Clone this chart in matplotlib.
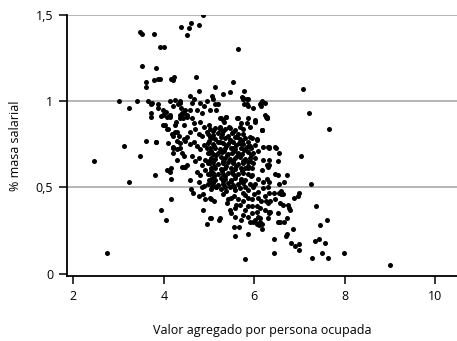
import matplotlib
matplotlib.use("Agg")
import matplotlib.pyplot as plt
import numpy as np

plt.rcParams["font.family"] = ["Open Sans", "DejaVu Sans"]

# Sparse points: outliers and the edges of the cloud
va_disperso = [
    3.47, 3.51, 3.79, 3.92, 4.00, 3.51, 3.82, 3.61, 3.61, 3.79, 3.87, 3.92, 4.16, 4.18,
    4.20, 4.22, 4.38, 4.51, 4.56, 4.61, 4.78, 4.87, 5.64, 4.71, 5.54, 4.78, 5.13, 4.58,
    5.07, 5.31, 5.47, 5.77, 5.74, 5.74, 5.84, 6.15, 6.14, 5.78, 5.87,
    3.01, 3.40, 3.64, 3.24, 3.72, 3.71, 3.71, 3.87, 3.94,
    7.08, 7.21, 7.65, 6.25, 6.29, 6.18, 6.33, 6.49, 7.03, 6.54, 6.52, 6.32, 6.32, 6.30,
    6.46, 6.52, 6.72, 6.28, 6.32, 6.55, 6.66, 7.25, 6.59,
    6.33, 6.44, 6.55, 6.59, 6.64, 6.99, 6.96, 6.88,
    6.26, 6.35, 6.46, 6.57, 6.64, 6.74, 6.77, 6.79, 7.36, 6.32, 6.33, 6.52, 6.72, 6.52,
    6.57, 6.66, 7.60, 7.46, 6.86, 6.72, 6.70, 6.44, 7.44, 7.35, 7.57, 6.80, 6.99, 6.99,
    6.91, 6.44, 7.50, 7.98, 7.27, 7.62, 9.01,
    2.74, 5.79, 4.04, 4.96, 5.22, 5.98, 6.05, 6.13, 6.11,
    2.45, 3.12, 3.47, 3.22, 3.61, 3.82,
    4.16, 3.94, 4.59, 4.65, 4.78, 4.87, 4.91, 4.87, 5.02, 5.02, 4.84,
]
ms_disperso = [
    1.40, 1.39, 1.39, 1.31, 1.31, 1.20, 1.19, 1.11, 1.08, 1.12, 1.13, 1.13, 1.13, 1.13,
    1.12, 1.14, 1.43, 1.38, 1.42, 1.45, 1.44, 1.50, 1.30, 1.14, 1.11, 1.06, 1.08, 1.03,
    1.03, 1.04, 1.05, 1.06, 1.02, 1.01, 1.01, 0.99, 0.97, 0.98, 0.97,
    1.00, 1.00, 1.00, 0.96, 0.98, 0.93, 0.905, 0.96, 0.915,
    1.07, 0.93, 0.84, 0.91, 0.90, 0.83, 0.73, 0.73, 0.68, 0.70, 0.65, 0.66, 0.63, 0.62,
    0.58, 0.57, 0.57, 0.55, 0.53, 0.52, 0.53, 0.52, 0.48,
    0.47, 0.47, 0.47, 0.46, 0.46, 0.47, 0.45, 0.44,
    0.42, 0.42, 0.43, 0.41, 0.40, 0.40, 0.38, 0.37, 0.39, 0.36, 0.35, 0.35, 0.32, 0.30,
    0.30, 0.30, 0.31, 0.28, 0.26, 0.23, 0.22, 0.20, 0.20, 0.19, 0.18, 0.18, 0.17, 0.14,
    0.16, 0.12, 0.12, 0.12, 0.09, 0.09, 0.05,
    0.12, 0.085, 0.31, 0.29, 0.31, 0.30, 0.29, 0.30, 0.28,
    0.65, 0.74, 0.68, 0.53, 0.77, 0.76,
    0.43, 0.37, 0.49, 0.47, 0.45, 0.46, 0.43, 0.37, 0.32, 0.44, 0.50,
]

# Upper-left part of the cloud (4 to 5)
va_izquierda = [
    3.74, 3.88, 3.99, 4.14, 4.20, 4.36, 4.38, 4.44, 4.51, 4.57, 4.62, 4.66, 4.73, 4.79,
    4.84, 4.88, 4.95, 5.01,
    4.05, 3.98, 4.14, 4.27, 4.36, 4.44, 4.62, 4.66, 4.80, 4.88, 4.99,
    4.03, 4.10, 4.18, 4.25, 4.33, 4.44, 4.51, 4.58, 4.69, 4.77, 4.84, 4.95, 5.02,
    3.83, 4.21, 4.29, 4.20, 4.36, 4.40, 4.44, 4.58, 4.66, 4.73, 4.80, 4.88, 4.95, 4.99,
    4.29, 4.51, 4.44, 4.62, 4.69, 4.77, 4.84, 4.91, 5.01,
    4.07, 4.16, 4.14, 4.40, 4.47, 4.73, 4.80, 4.91, 5.01,
    3.80, 4.16, 4.58, 4.77, 4.88, 4.99, 5.06,
    4.06, 4.14, 3.99, 4.06, 4.25, 4.29, 4.36, 4.40, 4.43, 4.32, 4.25, 4.36, 4.47, 4.51,
    4.21, 4.29, 4.10, 4.36, 4.47, 4.21,
]
ms_izquierda = [
    0.99, 0.98, 0.95, 1.00, 0.97, 0.99, 0.96, 0.93, 0.92, 0.95, 0.99, 1.01, 0.95, 0.99,
    0.93, 0.97, 1.00, 0.95,
    0.935, 0.92, 0.91, 0.88, 0.90, 0.86, 0.90, 0.87, 0.88, 0.85, 0.86,
    0.86, 0.84, 0.81, 0.82, 0.80, 0.78, 0.79, 0.82, 0.84, 0.81, 0.80, 0.82, 0.79,
    0.76, 0.73, 0.72, 0.70, 0.73, 0.70, 0.68, 0.75, 0.765, 0.74, 0.72, 0.745, 0.73, 0.70,
    0.66, 0.63, 0.62, 0.68, 0.65, 0.67, 0.63, 0.66, 0.64,
    0.60, 0.615, 0.59, 0.62, 0.62, 0.59, 0.57, 0.60, 0.58,
    0.57, 0.55, 0.54, 0.53, 0.51, 0.54, 0.51,
    0.91, 0.92, 0.86, 0.84, 0.86, 0.82, 0.92, 0.93, 0.90, 0.98, 1.005, 1.00, 0.95, 0.91,
    0.80, 0.77, 0.755, 0.755, 0.77, 0.735,
]

# Dense core between 5 and 6
va_nucleo = [
    5.09, 5.13, 5.16, 5.72, 5.75, 5.86, 5.83, 5.97, 6.12, 6.16, 6.23,
    5.27, 5.33, 5.38, 5.64, 5.70, 5.75, 5.86, 6.01, 6.16, 6.27, 6.32, 6.05, 5.94, 6.08,
    6.19, 6.16, 6.27, 6.08, 6.01, 6.19, 5.94, 5.86, 5.90,
    5.19, 5.24, 5.30, 5.37, 5.24, 5.43, 5.62, 5.68, 5.83, 5.90, 6.02, 6.24, 6.27, 6.16,
    5.62, 5.76, 5.90, 6.05, 5.46, 5.68, 5.83, 6.02, 6.20, 6.31, 6.46, 5.54,
    5.02, 5.13, 5.24, 5.35, 5.46, 5.57,
    4.98, 5.09, 5.19, 5.29, 5.41, 5.51, 5.63,
    5.04, 5.14, 5.26, 5.36, 5.46, 5.57, 5.68, 5.79,
    4.98, 5.08, 5.20, 5.31, 5.42, 5.53, 5.66, 5.75, 5.85,
    5.02, 5.13, 5.24, 5.35, 5.48, 5.58, 5.70, 5.80, 5.92,
    4.98, 5.09, 5.19, 5.29, 5.41, 5.51, 5.63, 5.73, 5.85, 5.97,
    5.04, 5.14, 5.26, 5.36, 5.46, 5.57, 5.68, 5.79, 5.90, 6.01,
    4.98, 5.09, 5.20, 5.31, 5.42, 5.53, 5.64, 5.75, 5.85, 5.97,
    5.04, 5.14, 5.26, 5.36, 5.48, 5.58, 5.70, 5.80, 5.94,
    4.98, 5.09, 5.20, 5.31, 5.42, 5.53, 5.64, 5.75, 5.86,
    5.04, 5.14, 5.26, 5.36, 5.48, 5.58, 5.70, 5.80,
    4.98, 5.09, 5.20, 5.31, 5.42, 5.53, 5.64, 5.75, 5.90,
    5.08, 5.30, 5.52,
    5.00, 5.25, 5.48, 5.72,
    5.10, 5.37, 5.60, 5.90,
    5.05, 5.33, 5.56, 5.78,
    5.15, 5.40, 5.62, 5.92,
    5.00, 5.30, 5.52, 5.74,
    5.12, 5.38, 5.60, 5.86,
    5.05, 5.28, 5.50, 5.72,
    5.10, 5.35, 5.58, 5.92,
    5.02, 5.30, 5.48, 5.70,
    5.15, 5.35, 5.55, 5.80,
]
ms_nucleo = [
    1.01, 0.98, 0.95, 1.025, 1.01, 1.01, 0.98, 0.96, 0.98, 1.00, 0.99,
    0.90, 0.88, 0.91, 0.90, 0.87, 0.84, 0.90, 0.89, 0.83, 0.91, 0.735, 0.775, 0.785, 0.71,
    0.66, 0.60, 0.63, 0.55, 0.52, 0.53, 0.57, 0.61, 0.65,
    0.98, 0.90, 0.89, 0.91, 0.85, 0.85, 0.90, 0.85, 0.875, 0.85, 0.88, 0.92, 0.90, 0.83,
    0.79, 0.81, 0.79, 0.78, 0.775, 0.755, 0.735, 0.745, 0.735, 0.735, 0.735, 0.725,
    0.84, 0.845, 0.835, 0.84, 0.845, 0.83,
    0.81, 0.805, 0.815, 0.81, 0.80, 0.815, 0.81,
    0.785, 0.78, 0.79, 0.785, 0.775, 0.79, 0.78, 0.785,
    0.755, 0.75, 0.76, 0.755, 0.75, 0.76, 0.755, 0.75, 0.76,
    0.725, 0.73, 0.72, 0.725, 0.73, 0.72, 0.725, 0.72, 0.73,
    0.70, 0.695, 0.70, 0.705, 0.695, 0.70, 0.70, 0.695, 0.705, 0.70,
    0.67, 0.665, 0.675, 0.67, 0.665, 0.67, 0.675, 0.665, 0.67, 0.67,
    0.64, 0.645, 0.635, 0.64, 0.645, 0.64, 0.635, 0.64, 0.645, 0.64,
    0.61, 0.615, 0.605, 0.61, 0.615, 0.605, 0.61, 0.615, 0.61,
    0.58, 0.585, 0.575, 0.58, 0.585, 0.575, 0.58, 0.585, 0.58,
    0.55, 0.545, 0.555, 0.55, 0.545, 0.555, 0.55, 0.545,
    0.52, 0.525, 0.515, 0.52, 0.525, 0.515, 0.52, 0.525, 0.52,
    0.825, 0.825, 0.82,
    0.77, 0.765, 0.77, 0.77,
    0.74, 0.74, 0.745, 0.74,
    0.71, 0.71, 0.71, 0.715,
    0.685, 0.685, 0.68, 0.685,
    0.655, 0.655, 0.655, 0.65,
    0.625, 0.625, 0.625, 0.625,
    0.595, 0.595, 0.59, 0.595,
    0.565, 0.565, 0.565, 0.565,
    0.535, 0.535, 0.535, 0.535,
    0.505, 0.505, 0.505, 0.505,
]

# Lower part of the cloud (below 0.5)
va_inferior = [
    5.05, 5.16, 5.27, 5.38, 5.46, 5.57, 5.68, 5.75, 5.86, 5.97, 6.08, 6.19, 6.30,
    5.04, 5.11, 5.42, 5.49, 5.64, 5.75, 5.85, 5.94, 6.08, 6.23, 6.30,
    5.46, 5.49, 5.57, 5.68, 5.79, 5.94, 6.05, 6.12, 6.23, 6.34,
    5.05, 5.24, 5.57, 5.70, 5.85, 5.90, 6.01, 6.08, 6.12, 6.16, 6.30,
    5.55, 5.66, 5.57, 5.86, 6.16,
    5.30, 5.55, 5.80, 6.00, 5.60, 5.85, 6.15, 5.40, 5.95, 5.75, 6.05,
]
ms_inferior = [
    0.49, 0.50, 0.49, 0.48, 0.50, 0.485, 0.495, 0.465, 0.485, 0.50, 0.475, 0.495, 0.50,
    0.43, 0.42, 0.43, 0.44, 0.43, 0.42, 0.44, 0.43, 0.44, 0.45, 0.41,
    0.37, 0.35, 0.38, 0.40, 0.37, 0.39, 0.39, 0.38, 0.37, 0.36,
    0.32, 0.32, 0.33, 0.31, 0.33, 0.30, 0.31, 0.33, 0.32, 0.29, 0.32,
    0.27, 0.27, 0.22, 0.23, 0.26,
    0.46, 0.45, 0.455, 0.46, 0.40, 0.39, 0.42, 0.41, 0.35, 0.34, 0.355,
]

x = np.array(va_disperso + va_izquierda + va_nucleo + va_inferior)
y = np.array(ms_disperso + ms_izquierda + ms_nucleo + ms_inferior)

yticks = [0, 0.5, 1, 1.5]
ytick_labels = ["0", "0,5", "1", "1,5"]
xticks = [2, 4, 6, 8, 10]

fig = plt.figure(figsize=(4.57, 3.41), dpi=100)
ax = fig.add_axes([0.1466, 0.1906, 0.8534, 0.7666])

for t in yticks[1:]:
    ax.axhline(t, color="#a8a8a8", linewidth=1.2, zorder=1)

ax.scatter(x, y, s=13, color="black", linewidths=0, zorder=3)

ax.set_xlim(1.86, 10.48)
ax.set_ylim(-0.013, 1.5)

ax.set_xticks(xticks)
ax.set_xticklabels([str(v) for v in xticks])
ax.set_yticks(yticks)
ax.set_yticklabels(ytick_labels)
ax.tick_params(axis="both", direction="out", length=6, width=1.1,
               labelsize=9, color="black", pad=4)

ax.spines["top"].set_visible(False)
ax.spines["right"].set_visible(False)
ax.spines["left"].set_linewidth(1.3)
ax.spines["bottom"].set_linewidth(1.3)

ax.set_xlabel("Valor agregado por persona ocupada", fontsize=9, labelpad=15)
ax.set_ylabel("% masa salarial", fontsize=9, labelpad=10)

fig.savefig("out.png", dpi=100)
